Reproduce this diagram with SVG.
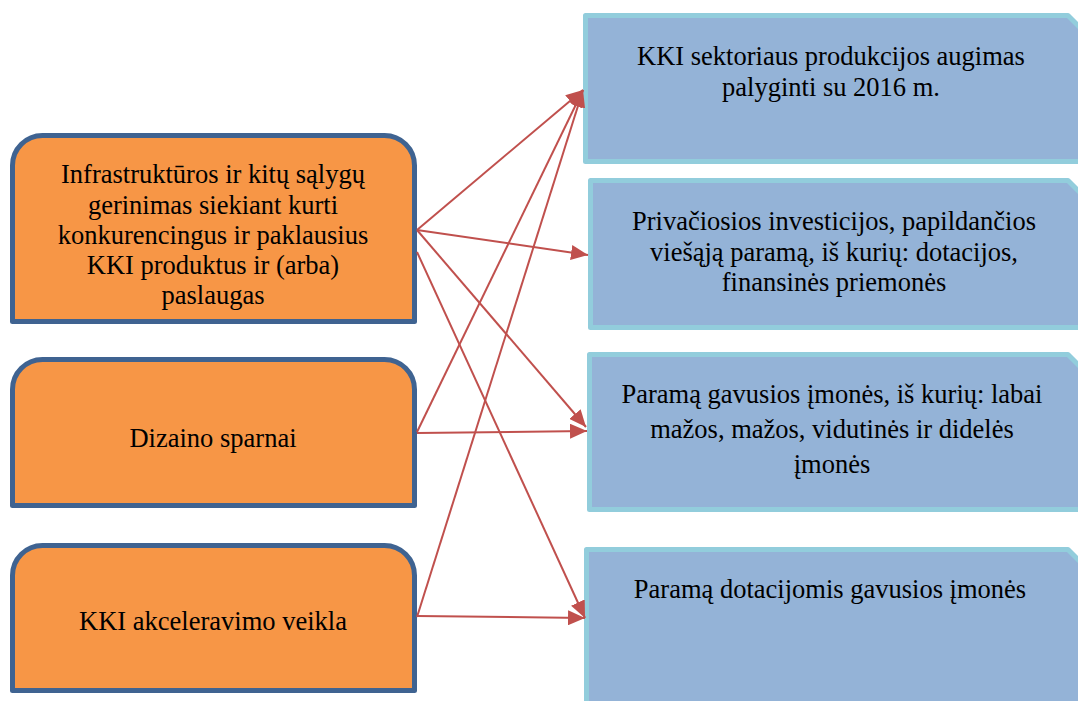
<svg xmlns="http://www.w3.org/2000/svg" width="1078" height="701" viewBox="0 0 1078 701">
<style>
.src{fill:#F79646;stroke:#3F6391;stroke-width:5;stroke-linejoin:round}
.dst{fill:#94B3D7;stroke:#92CDDC;stroke-width:5;stroke-linejoin:round}
.t{font-family:"Liberation Serif","Times New Roman",serif;font-size:26.5px;fill:#000;text-anchor:middle}
.c{stroke:#C0504D;stroke-width:2;fill:none}
</style>
<defs>
<marker id="ah" markerUnits="userSpaceOnUse" markerWidth="17" markerHeight="15" refX="17" refY="7.5" orient="auto">
<path d="M0,0 L17,7.5 L0,15 Z" fill="#C0504D"/>
</marker>
</defs>
<rect width="1078" height="701" fill="#fff"/>
<g id="node-infra">
<path class="src" d="M12.5,321.5 V165.5 A30,30 0 0 1 42.5,135.5 H384.5 A30,30 0 0 1 414.5,165.5 V321.5 Z"/>
<text class="t" x="213" y="183">Infrastruktūros ir kitų sąlygų</text>
<text class="t" x="213" y="214">gerinimas siekiant kurti</text>
<text class="t" x="213" y="244">konkurencingus ir paklausius</text>
<text class="t" x="213" y="274">KKI produktus ir (arba)</text>
<text class="t" x="213" y="304">paslaugas</text>
</g>
<g id="node-dizaino">
<path class="src" d="M12.5,505.5 V389.5 A30,30 0 0 1 42.5,359.5 H384.5 A30,30 0 0 1 414.5,389.5 V505.5 Z"/>
<text class="t" x="213" y="447">Dizaino sparnai</text>
</g>
<g id="node-akcel">
<path class="src" d="M12.5,690.5 V575.5 A30,30 0 0 1 42.5,545.5 H384.5 A30,30 0 0 1 414.5,575.5 V690.5 Z"/>
<text class="t" x="213" y="630">KKI akceleravimo veikla</text>
</g>
<g id="node-produkcija">
<path class="dst" d="M585.5,15.5 H1068 L1092,39.5 V161.5 H585.5 Z"/>
<text class="t" x="831" y="65">KKI sektoriaus produkcijos augimas</text>
<text class="t" x="831" y="96">palyginti su 2016 m.</text>
</g>
<g id="node-investicijos">
<path class="dst" d="M590.5,180.5 H1068 L1092,204.5 V327.5 H590.5 Z"/>
<text class="t" x="834" y="230">Privačiosios investicijos, papildančios</text>
<text class="t" x="834" y="261">viešąją paramą, iš kurių: dotacijos,</text>
<text class="t" x="834" y="291">finansinės priemonės</text>
</g>
<g id="node-imones">
<path class="dst" d="M589.5,354.5 H1068 L1092,378.5 V509.5 H589.5 Z"/>
<text class="t" x="832" y="403">Paramą gavusios įmonės, iš kurių: labai</text>
<text class="t" x="832" y="438">mažos, mažos, vidutinės ir didelės</text>
<text class="t" x="832" y="473">įmonės</text>
</g>
<g id="node-dotacijos">
<path class="dst" d="M586.5,549.5 H1068 L1092,573.5 V720 H586.5 Z"/>
<text class="t" x="830" y="598">Paramą dotacijomis gavusios įmonės</text>
</g>
<g id="connectors">
<line class="c" x1="417" y1="230" x2="583" y2="90" marker-end="url(#ah)"/>
<line class="c" x1="417" y1="230" x2="588" y2="255" marker-end="url(#ah)"/>
<line class="c" x1="417" y1="230" x2="586" y2="427" marker-end="url(#ah)"/>
<line class="c" x1="417" y1="252" x2="585" y2="618" marker-end="url(#ah)"/>
<line class="c" x1="417" y1="432" x2="583" y2="90" marker-end="url(#ah)"/>
<line class="c" x1="417" y1="433" x2="587" y2="431" marker-end="url(#ah)"/>
<line class="c" x1="417" y1="617" x2="583" y2="90" marker-end="url(#ah)"/>
<line class="c" x1="417" y1="616" x2="585" y2="618" marker-end="url(#ah)"/>
</g>
</svg>
